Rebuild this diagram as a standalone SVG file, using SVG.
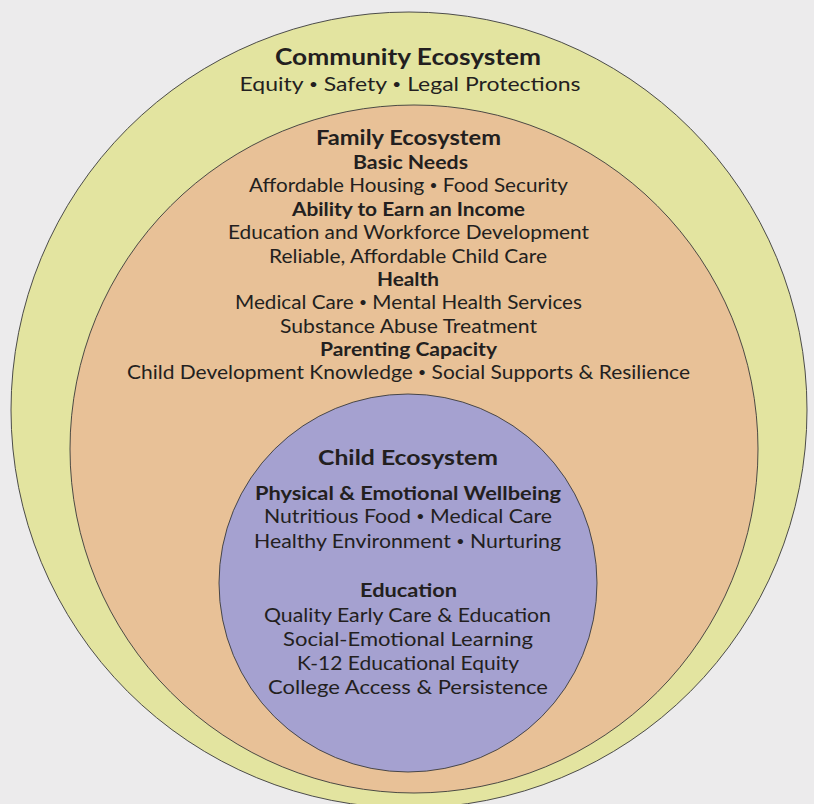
<svg xmlns="http://www.w3.org/2000/svg" width="814" height="804" viewBox="0 0 814 804">
<style>
.ring{stroke:#3a3a3a;stroke-width:0.9}
text{font-family:Lato,"Open Sans",sans-serif;fill:#231f20;text-anchor:middle}
.t{font-weight:700;font-size:22px}
.h{font-weight:700;font-size:18.5px}
.r{font-size:19.5px}
.b{font-size:13px;baseline-shift:2px}
</style>
<rect x="0" y="0" width="814" height="804" fill="#ecebec"/>
<g id="community">
<circle class="ring" cx="409" cy="410" r="398" fill="#e3e4a0"/>
<text class="t" x="408" y="65" textLength="266" lengthAdjust="spacingAndGlyphs">Community Ecosystem</text>
<text class="r" x="410" y="91" textLength="341" lengthAdjust="spacingAndGlyphs">Equity <tspan class="b">•</tspan> Safety <tspan class="b">•</tspan> Legal Protections</text>
</g>
<g id="family">
<circle class="ring" cx="414" cy="449" r="344" fill="#e8c197"/>
<text class="h" x="408.5" y="145" textLength="185" lengthAdjust="spacingAndGlyphs" style="font-size:20px">Family Ecosystem</text>
<text class="h" x="410.5" y="169" textLength="115" lengthAdjust="spacingAndGlyphs">Basic Needs</text>
<text class="r" x="408.5" y="192" textLength="319" lengthAdjust="spacingAndGlyphs">Affordable Housing <tspan class="b">•</tspan> Food Security</text>
<text class="h" x="408.5" y="216" textLength="233" lengthAdjust="spacingAndGlyphs">Ability to Earn an Income</text>
<text class="r" x="408.5" y="239" textLength="361" lengthAdjust="spacingAndGlyphs">Education and Workforce Development</text>
<text class="r" x="408" y="263" textLength="278" lengthAdjust="spacingAndGlyphs">Reliable, Affordable Child Care</text>
<text class="h" x="408" y="286" textLength="62" lengthAdjust="spacingAndGlyphs">Health</text>
<text class="r" x="408.5" y="309" textLength="347" lengthAdjust="spacingAndGlyphs">Medical Care <tspan class="b">•</tspan> Mental Health Services</text>
<text class="r" x="408.5" y="333" textLength="257" lengthAdjust="spacingAndGlyphs">Substance Abuse Treatment</text>
<text class="h" x="408.5" y="356" textLength="177" lengthAdjust="spacingAndGlyphs">Parenting Capacity</text>
<text class="r" x="408.5" y="379" textLength="563" lengthAdjust="spacingAndGlyphs">Child Development Knowledge <tspan class="b">•</tspan> Social Supports &amp; Resilience</text>
</g>
<g id="child">
<circle class="ring" cx="408" cy="583" r="189" fill="#a5a1d0"/>
<text class="t" x="408" y="465" textLength="180" lengthAdjust="spacingAndGlyphs" style="font-size:21px">Child Ecosystem</text>
<text class="h" x="408" y="500" textLength="306" lengthAdjust="spacingAndGlyphs">Physical &amp; Emotional Wellbeing</text>
<text class="r" x="408" y="523" textLength="288" lengthAdjust="spacingAndGlyphs">Nutritious Food <tspan class="b">•</tspan> Medical Care</text>
<text class="r" x="407.5" y="548" textLength="307" lengthAdjust="spacingAndGlyphs">Healthy Environment <tspan class="b">•</tspan> Nurturing</text>
<text class="h" x="408.5" y="597" textLength="97" lengthAdjust="spacingAndGlyphs">Education</text>
<text class="r" x="407.5" y="622" textLength="287" lengthAdjust="spacingAndGlyphs">Quality Early Care &amp; Education</text>
<text class="r" x="408" y="646" textLength="250" lengthAdjust="spacingAndGlyphs">Social-Emotional Learning</text>
<text class="r" x="408" y="670" textLength="222" lengthAdjust="spacingAndGlyphs">K-12 Educational Equity</text>
<text class="r" x="408" y="694" textLength="280" lengthAdjust="spacingAndGlyphs">College Access &amp; Persistence</text>
</g>
</svg>
